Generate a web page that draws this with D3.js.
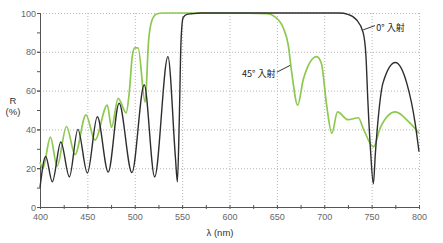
<!DOCTYPE html>
<html>
<head>
<meta charset="utf-8">
<script src="https://cdn.jsdelivr.net/npm/d3@7"></script>
<style>
    body { margin: 0; background: #fff; }
    svg { display: block; }
    svg text { font-family: "Liberation Sans", Arial, sans-serif; }
    .label-cjk { font-family: "Noto Sans CJK JP", sans-serif; }
</style>
</head>
<body>
<svg id="chart"></svg>
<script>
// wavelength (nm) / reflectance (%)
var wave0 = [400, 406, 413, 422, 431, 440, 450, 460.5, 472, 483.5, 497, 510, 521, 535, 543, 545, 547, 548.8, 551, 555, 560, 570, 600, 650, 700, 716, 725, 734, 741, 744, 746, 749, 751.8, 754, 757, 762, 775, 787, 796, 800];
var refl0 = [10, 26, 13, 33.5, 15.5, 40, 17.5, 46.5, 18, 53.5, 17.7, 63, 15.5, 77.5, 25, 13, 45, 85, 97.5, 99.3, 99.6, 100, 100, 100, 100, 100, 99.3, 96.5, 90, 78, 55, 28, 12, 28, 46, 64, 74.5, 64, 43, 28.5];

var wave45 = [400, 403, 411, 418, 428, 437, 448.5, 458, 471, 475.5, 482.5, 491, 494, 497.5, 500, 503.5, 511, 514.5, 518, 523, 530, 600, 640, 648, 657, 662, 665.5, 672, 678, 692, 697, 702.5, 708, 714, 725, 736, 741, 752, 759, 775, 789, 800];
var refl45 = [23, 20, 36, 21, 41.5, 27, 47.5, 34.5, 52.5, 41, 56, 48.5, 58, 78, 82, 82, 54, 85, 96, 99.5, 100, 100, 99.7, 98, 92, 83.5, 70, 52.5, 66, 77.5, 74, 52.5, 38, 49, 45, 46, 40.7, 31, 40.7, 49, 44, 38];

var xTicks = [400, 450, 500, 550, 600, 650, 700, 750, 800];
var yTicks = [0, 20, 40, 60, 80, 100];

var width = 443,
    height = 243,
    margin = { top: 13, right: 24, bottom: 36, left: 40 },
    innerWidth = width - margin.left - margin.right,
    innerHeight = height - margin.top - margin.bottom;

var svg = d3.select('#chart')
    .attr('width', width)
    .attr('height', height);

var chart = svg.append('g')
    .attr('transform', 'translate(' + margin.left + ', ' + margin.top + ')');

var x = d3.scaleLinear().domain([400, 800]).range([0, innerWidth]);
var y = d3.scaleLinear().domain([0, 100]).range([innerHeight, 0]);

// dotted grid
chart.selectAll('.hgrid')
    .data(yTicks.slice(1))
    .enter().append('line')
    .attr('x1', 0).attr('x2', innerWidth)
    .attr('y1', function (d) { return y(d) + 0.5; })
    .attr('y2', function (d) { return y(d) + 0.5; })
    .attr('stroke', '#b5b5b5')
    .attr('stroke-dasharray', '1,2');

chart.selectAll('.vgrid')
    .data(xTicks.slice(1))
    .enter().append('line')
    .attr('y1', 0).attr('y2', innerHeight)
    .attr('x1', function (d) { return x(d) + 0.5; })
    .attr('x2', function (d) { return x(d) + 0.5; })
    .attr('stroke', '#b5b5b5')
    .attr('stroke-dasharray', '1,2');

// minor ticks (no labels)
chart.append('g')
    .call(d3.axisLeft(y).tickValues(d3.range(0, 101, 10)).tickSize(3))
    .call(function (g) {
        g.select('.domain').remove();
        g.selectAll('text').remove();
        g.selectAll('line').attr('stroke', '#555');
    });

chart.append('g')
    .attr('transform', 'translate(0,' + innerHeight + ')')
    .call(d3.axisBottom(x).tickValues(d3.range(400, 801, 25)).tickSize(2))
    .call(function (g) {
        g.select('.domain').remove();
        g.selectAll('text').remove();
        g.selectAll('line').attr('y1', -2).attr('stroke', '#555');
    });

// axes with labels
var yAxis = chart.append('g')
    .call(d3.axisLeft(y).tickValues(yTicks).tickSize(3));
yAxis.select('.domain').attr('stroke', '#555').attr('d', 'M0.5,0V' + (innerHeight + 0.5));
yAxis.selectAll('line').attr('stroke', '#555');
yAxis.selectAll('text')
    .attr('fill', '#666').style('font-size', '9px')
    .attr('x', -4).attr('dy', null).attr('y', 3);

var xAxis = chart.append('g')
    .attr('transform', 'translate(0,' + innerHeight + ')')
    .call(d3.axisBottom(x).tickValues(xTicks).tickSize(0));
xAxis.select('.domain').attr('stroke', '#555').attr('d', 'M0,0.5H' + innerWidth);
xAxis.selectAll('text')
    .attr('fill', '#666').style('font-size', '9px')
    .attr('dy', null).attr('y', 13);

// axis titles
svg.append('text')
    .attr('x', 13).attr('y', 104)
    .attr('text-anchor', 'middle')
    .style('font-size', '9.5px').attr('fill', '#333')
    .text('R');
svg.append('text')
    .attr('x', 13).attr('y', 115)
    .attr('text-anchor', 'middle')
    .style('font-size', '9.5px').attr('fill', '#333')
    .text('(%)');
svg.append('text')
    .attr('x', margin.left + x(590)).attr('y', 236)
    .attr('text-anchor', 'middle')
    .style('font-size', '9.5px').attr('fill', '#333')
    .text('λ (nm)');

// curves
var line = d3.line()
    .x(function (d) { return x(d[0]); })
    .y(function (d) { return y(d[1]); })
    .curve(d3.curveMonotoneX);

chart.append('path')
    .datum(d3.zip(wave45, refl45))
    .attr('fill', 'none')
    .attr('stroke', '#8dc850')
    .attr('stroke-width', 1.7)
    .attr('d', line);

chart.append('path')
    .datum(d3.zip(wave0, refl0))
    .attr('fill', 'none')
    .attr('stroke', '#2e2e2e')
    .attr('stroke-width', 1.4)
    .attr('d', line);

// annotations
chart.append('line')
    .attr('x1', x(741)).attr('y1', y(91.3))
    .attr('x2', x(753.5)).attr('y2', y(93.5))
    .attr('stroke', '#333');
chart.append('text')
    .attr('class', 'label-cjk')
    .attr('x', x(755)).attr('y', y(90.5))
    .style('font-size', '9px').attr('fill', '#222')
    .text('0° 入射');

chart.append('line')
    .attr('x1', x(650)).attr('y1', y(69.5))
    .attr('x2', x(664)).attr('y2', y(73))
    .attr('stroke', '#333');
chart.append('text')
    .attr('class', 'label-cjk')
    .attr('x', x(648.5)).attr('y', y(67))
    .attr('text-anchor', 'end')
    .style('font-size', '9px').attr('fill', '#222')
    .text('45° 入射');
</script>
</body>
</html>
